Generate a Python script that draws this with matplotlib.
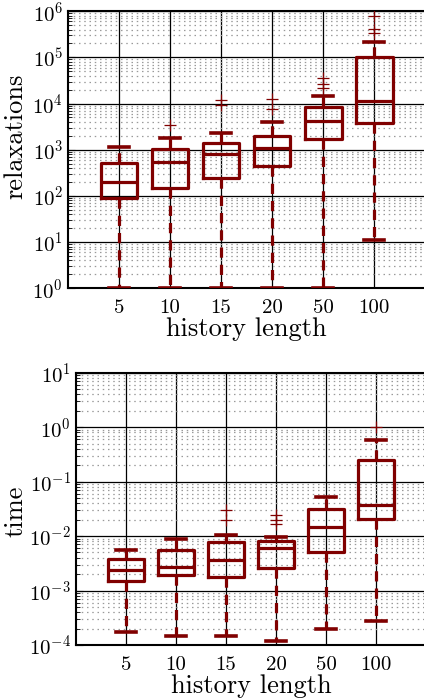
import numpy as np
import matplotlib
matplotlib.use("Agg")
from matplotlib import pyplot as plt

plt.rcParams['font.family'] = 'serif'
plt.rcParams['font.serif'] = ['cmr10']
plt.rcParams['mathtext.fontset'] = 'cm'
plt.rcParams['axes.formatter.use_mathtext'] = True

## Data ##
labels = ['5', '10', '15', '20', '50', '100']

# relaxations
rel_whislo = [1, 1, 1, 1, 1, 11]
rel_q1 = [89, 146, 240, 440, 1690, 3750]
rel_med = [200, 535, 800, 1070, 4140, 11200]
rel_q3 = [510, 1020, 1380, 1960, 8300, 100000]
rel_whishi = [1130, 1780, 2270, 3970, 14400, 214000]
rel_fliers = [[], [3400], [9200, 11700], [7500, 12400],
              [21600, 26000, 35000], [335000, 410000, 780000]]

# time
time_whislo = [0.000174, 0.000148, 0.000148, 0.000117, 0.000195, 0.00027]
time_q1 = [0.0015, 0.0019, 0.0018, 0.0026, 0.0051, 0.021]
time_med = [0.0024, 0.0027, 0.0036, 0.006, 0.0148, 0.037]
time_q3 = [0.0038, 0.0056, 0.0077, 0.0081, 0.032, 0.25]
time_whishi = [0.0056, 0.0089, 0.0105, 0.0098, 0.052, 0.59]
time_fliers = [[], [], [0.020, 0.030], [0.017, 0.020, 0.024], [], [1.0]]

color = '#800000'


def make_stats(lo, q1, med, q3, hi, fl):
    stats = []
    for i in range(len(lo)):
        stats.append(dict(whislo=lo[i], q1=q1[i], med=med[i], q3=q3[i],
                          whishi=hi[i], fliers=fl[i]))
    return stats


def draw(ax, stats, ylim, ylabel, label_x, label_y):
    ax.bxp(stats, positions=np.arange(1, len(stats) + 1), widths=0.72,
           capwidths=0.4,
           boxprops=dict(color=color, linewidth=2.3),
           whiskerprops=dict(color=color, linewidth=2.3, linestyle='--',
                             dashes=(3.2, 2.2)),
           capprops=dict(color=color, linewidth=2.6),
           medianprops=dict(color=color, linewidth=2.3),
           flierprops=dict(marker='+', markeredgecolor=color,
                           markersize=8, markeredgewidth=0.9),
           zorder=3)
    ax.set_yscale('log')
    ax.set_ylim(*ylim)
    ax.set_xlim(0, 7)
    ax.set_xticks(np.arange(1, len(stats) + 1))
    ax.set_xticklabels(labels)
    ax.grid(True, which='major', color='black', linestyle='-', linewidth=0.9)
    ax.grid(True, which='minor', axis='y', color='#9a9a9a',
            linestyle=(0, (1.2, 3)), linewidth=0.9)
    ax.tick_params(axis='both', which='both', direction='in', labelsize=15)
    ax.tick_params(axis='x', length=0, pad=8)
    ax.tick_params(axis='y', which='major', length=5)
    ax.tick_params(axis='y', which='minor', length=3)
    for sp in ax.spines.values():
        sp.set_linewidth(1.5)
    ax.set_xlabel('history length', fontsize=19, labelpad=0)
    ax.set_ylabel(ylabel, fontsize=19)
    ax.yaxis.set_label_coords(label_x, label_y)


fig = plt.figure(figsize=(4.24, 6.98), dpi=100)

ax1 = fig.add_axes([0.160, 0.587, 0.843, 0.397])
draw(ax1, make_stats(rel_whislo, rel_q1, rel_med, rel_q3, rel_whishi, rel_fliers),
     (1e0, 1e6), 'relaxations', -0.112, 0.55)

ax2 = fig.add_axes([0.179, 0.076, 0.826, 0.390])
draw(ax2, make_stats(time_whislo, time_q1, time_med, time_q3, time_whishi, time_fliers),
     (1e-4, 1e1), 'time', -0.137, 0.49)

fig.savefig('out.png', dpi=100)
